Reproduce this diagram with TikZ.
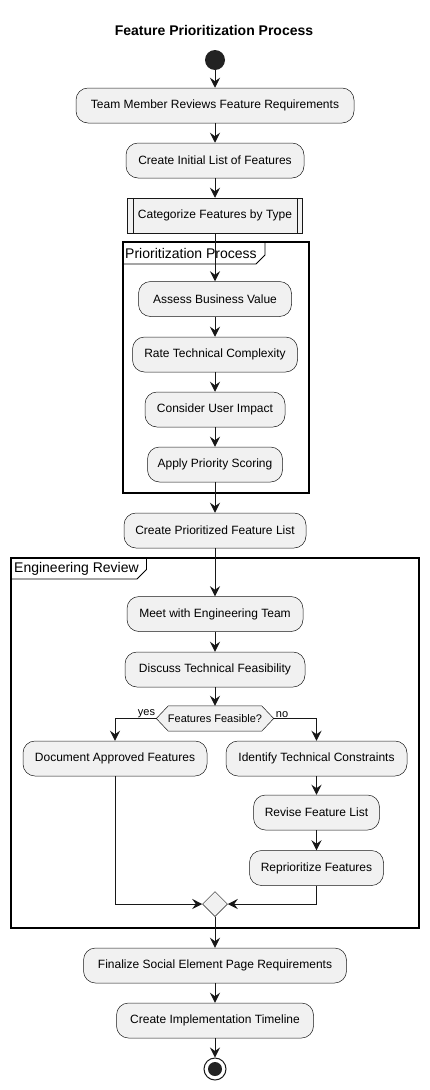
\documentclass[tikz,border=0pt]{standalone}
\usepackage{fontspec}
\setmainfont{Liberation Sans}
\usetikzlibrary{arrows.meta,shapes.geometric,calc}
\definecolor{actfill}{HTML}{F1F1F1}
\definecolor{actline}{HTML}{181818}
\definecolor{dotfill}{HTML}{222222}
\begin{document}
\begin{tikzpicture}[x=1pt,y=-1pt,
  act/.style={draw=actline, line width=0.5pt, fill=actfill, rounded corners=12pt,
    minimum height=35pt, inner sep=0pt, font=\fontsize{12}{15}\selectfont},
  subp/.style={draw=actline, line width=0.5pt, fill=actfill,
    minimum height=35pt, inner sep=0pt, font=\fontsize{12}{15}\selectfont},
  arr/.style={draw=actline, line width=1pt, -{Stealth[length=10pt,width=10pt,inset=3.5pt]}},
  frm/.style={draw=black, line width=1.5pt},
  frmlabel/.style={anchor=west, inner sep=0pt, font=\fontsize{14}{16}\selectfont},
  guard/.style={inner sep=0pt, font=\fontsize{11}{13}\selectfont}
]
\fill[white] (0,0) rectangle (429,1090);
\useasboundingbox (0,0) rectangle (429,1090);

\node[font=\bfseries\fontsize{14}{16}\selectfont] (title) at (214,30) {Feature Prioritization Process};

\node[circle, fill=dotfill, minimum size=20pt, inner sep=0pt] (start) at (215,60) {};

\node[act, minimum width=278pt] (b1) at (215,105.5) {Team Member Reviews Feature Requirements};
\node[act, minimum width=178pt] (b2) at (215,160.5) {Create Initial List of Features};
\node[subp, minimum width=175pt] (b3) at (215,215.5) {Categorize Features by Type};
\draw[draw=actline, line width=0.5pt] ($(b3.north west)+(6,0)$) -- ($(b3.south west)+(6,0)$);
\draw[draw=actline, line width=0.5pt] ($(b3.north east)+(-6,0)$) -- ($(b3.south east)+(-6,0)$);

% Prioritization Process frame
\draw[frm] (123,242) rectangle (309,493);
\draw[line width=0.8pt] (123,264) -- (256,264) -- (265,255) -- (265,242);
\node[frmlabel] (plabel) at (125,253) {Prioritization Process};

\node[act, minimum width=153pt] (p1) at (215,299) {Assess Business Value};
\node[act, minimum width=165pt] (p2) at (215,354.5) {Rate Technical Complexity};
\node[act, minimum width=140pt] (p3) at (215,409.5) {Consider User Impact};
\node[act, minimum width=135pt] (p4) at (215,464.5) {Apply Priority Scoring};

\node[act, minimum width=182pt] (b4) at (215,530.5) {Create Prioritized Feature List};

% Engineering Review frame
\draw[frm] (11,558) rectangle (419,928);
\draw[line width=0.8pt] (11,579) -- (137,579) -- (146.5,569.5) -- (146.5,558);
\node[frmlabel] (elabel) at (14,568.5) {Engineering Review};

\node[act, minimum width=176pt] (e1) at (215,614) {Meet with Engineering Team};
\node[act, minimum width=180pt] (e2) at (215,669.5) {Discuss Technical Feasibility};

\node[inner sep=0pt, minimum width=93pt, minimum height=25pt] (dec) at (215,718.5) {};
\coordinate (decL) at ($(dec.west)+(-12,0)$);
\coordinate (decR) at ($(dec.east)+(12,0)$);
\filldraw[fill=actfill, draw=actline, line width=0.5pt] (dec.north west) -- (dec.north east) -- (decR) -- (dec.south east) -- (dec.south west) -- (decL) -- cycle;
\node[inner sep=0pt, font=\fontsize{11}{14}\selectfont] (dectext) at (dec) {Features Feasible?};

\node[act, minimum width=184pt] (yes1) at (115,758.5) {Document Approved Features};
\node[act, minimum width=181pt] (no1) at (316.5,758.5) {Identify Technical Constraints};
\node[act, minimum width=126pt] (no2) at (316.5,812.5) {Revise Feature List};
\node[act, minimum width=134pt] (no3) at (316.5,868) {Reprioritize Features};

\node[diamond, draw=actline, line width=0.5pt, fill=actfill, minimum width=25pt, minimum height=25pt, inner sep=0pt] (merge) at (215,904) {};

\node[act, minimum width=263pt] (f1) at (215,965.5) {Finalize Social Element Page Requirements};
\node[act, minimum width=197pt] (f2) at (215,1020.5) {Create Implementation Timeline};

\node[circle, draw=actline, line width=1pt, fill=white, minimum size=22pt, inner sep=0pt] (end) at (215,1069) {};
\node[circle, fill=dotfill, minimum size=14pt, inner sep=0pt] (endin) at (end) {};

% connectors
\draw[arr] (start) -- (b1.north);
\draw[arr] (b1) -- (b2.north);
\draw[arr] (b2) -- (b3.north);
\draw[arr] (b3.south) -- (p1.north);
\draw[arr] (p1) -- (p2.north);
\draw[arr] (p2) -- (p3.north);
\draw[arr] (p3) -- (p4.north);
\draw[arr] (p4.south) -- (b4.north);
\draw[arr] (b4.south) -- (e1.north);
\draw[arr] (e1) -- (e2.north);
\draw[arr] (e2.south) -- (dec.north);
\draw[arr] (decL) -| (yes1.north);
\draw[arr] (decR) -| (no1.north);
\draw[arr] (no1) -- (no2.north);
\draw[arr] (no2) -- (no3.north);
\draw[arr] (yes1.south) |- (merge.west);
\draw[arr] (no3.south) |- (merge.east);
\draw[arr] (merge.south) -- (f1.north);
\draw[arr] (f1) -- (f2.north);
\draw[arr] (f2.south) -- (end.north);

\node[guard, anchor=south east] (yeslbl) at ($(decL)+(-1,-1)$) {yes};
\node[guard, anchor=south west] (nolbl) at ($(decR)+(2,-1)$) {no};
\end{tikzpicture}
\end{document}
